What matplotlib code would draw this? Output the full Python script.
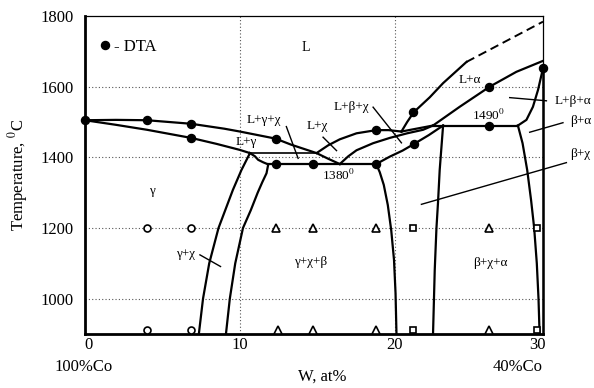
import matplotlib.pyplot as plt

plt.rcParams['font.family'] = ['Liberation Serif', 'DejaVu Serif']
plt.rcParams['mathtext.fontset'] = 'stix'

# DTA points (filled circles), W at% / temperature C
dta_w = [0, 4.0, 6.85, 6.85, 12.3, 12.3, 14.7, 18.8, 18.8, 21.2, 21.25, 26.1, 26.1, 29.57]
dta_t = [1505, 1505, 1495, 1455, 1453, 1380, 1381, 1381, 1477, 1528, 1438, 1600, 1489, 1652]

# annealed samples (open symbols), at 1200 and at the bottom row
anneal_t = [1200, 910]
gamma_w = [4.0, 6.85]                 # circles
tri_w_1200 = [12.3, 14.7, 18.8, 26.1]  # triangles
tri_w_low = [12.45, 14.7, 18.8, 26.1]
sq_w = [21.2, 29.2]                    # squares

# phase boundaries
liq_gamma_w = [0, 2.0, 4.0, 6.85, 9.0, 10.0, 12.3, 13.3, 14.95, 15.7, 16.45]
liq_gamma_t = [1505, 1506, 1505, 1495, 1481, 1473, 1453, 1436, 1412, 1396, 1381]
sol_gamma_w = [0, 2.0, 4.0, 6.85, 8.5, 10.0, 10.65]
sol_gamma_t = [1505, 1492, 1478, 1455, 1438, 1421, 1412]
iso1412_w = [10.65, 14.95]
iso1412_t = [1412, 1412]
corner_w = [10.65, 10.97, 11.18, 11.5, 11.83]
corner_t = [1412, 1403, 1393, 1386, 1380]
iso1380_w = [11.83, 18.8]
iso1380_t = [1380, 1380]
solv1_w = [10.65, 10.1, 9.55, 8.62, 8.02, 7.62, 7.35]
solv1_t = [1412, 1364, 1308, 1200, 1100, 1000, 900]
solv2_w = [11.83, 11.72, 11.45, 11.15, 10.7, 10.2, 9.7, 9.35, 9.1]
solv2_t = [1380, 1355, 1330, 1300, 1250, 1200, 1100, 1000, 900]
liq_chi_w = [14.95, 15.7, 16.45, 17.53, 18.8, 19.6, 20.43]
liq_chi_t = [1412, 1434, 1451, 1468, 1477, 1477, 1473]
pq_w = [20.43, 22.47]
pq_t = [1473, 1490]
ccurve_w = [16.45, 17.0, 17.53, 18.6, 19.68, 20.8, 21.83, 22.47]
ccurve_t = [1381, 1403, 1420, 1440, 1455, 1468, 1478, 1490]
c_w = [18.8, 19.68, 20.5, 21.25, 22.2, 23.12]
c_t = [1381, 1402, 1419, 1438, 1463, 1490]
c_low_w = [18.8, 19.03, 19.29, 19.55, 19.77, 19.95, 20.05, 20.11]
c_low_t = [1381, 1358, 1322, 1265, 1194, 1110, 1015, 900]
liq_alpha_w = [20.43, 20.8, 21.23, 22.26, 23.12, 24.63]
liq_alpha_t = [1473, 1500, 1528, 1570, 1610, 1670]
liq_alpha_dash_w = [24.63, 27.1, 29.57]
liq_alpha_dash_t = [1670, 1727, 1784]
sol_alpha_w = [22.47, 24.19, 26.13, 27.85, 29.57]
sol_alpha_t = [1490, 1543, 1600, 1642, 1673]
lba_w = [29.57, 29.25, 28.92, 28.5, 27.95]
lba_t = [1652, 1591, 1543, 1506, 1490]
iso1490_w = [22.47, 27.95]
iso1490_t = [1490, 1490]
ba_w = [27.95, 28.25, 28.55, 28.8, 29.0, 29.17, 29.28, 29.35]
ba_t = [1490, 1440, 1364, 1279, 1200, 1100, 1000, 900]
r_w = [23.12, 22.9, 22.79, 22.69, 22.58, 22.47]
r_t = [1490, 1364, 1271, 1199, 1081, 900]
edge_w = [29.57, 29.57]
edge_t = [900, 1652]

# leader lines from labels into narrow regions
leaders = [
    ([13.0, 13.76], [1487, 1397]),
    ([15.37, 16.24], [1457, 1419]),
    ([18.6, 20.43], [1542, 1441]),
    ([27.42, 29.79], [1569, 1560]),
    ([28.71, 30.86], [1471, 1498]),
    ([21.72, 31.08], [1267, 1385]),
    ([7.42, 8.75], [1124, 1091]),
]

grid_t = [1000, 1200, 1400, 1600]
grid_w = [10, 20]

fig = plt.figure(figsize=(5.94, 3.88), dpi=100)
ax = fig.add_axes([85 / 594, 1 - 334 / 388, 458 / 594, 318 / 388])

for t in grid_t:
    ax.axhline(t, color='#555555', lw=0.8, ls=(0, (1, 2)), zorder=1)
for w in grid_w:
    ax.axvline(w, color='#555555', lw=0.8, ls=(0, (1, 2)), zorder=1)

curves = [
    (liq_gamma_w, liq_gamma_t), (sol_gamma_w, sol_gamma_t), (corner_w, corner_t),
    (iso1380_w, iso1380_t), (solv1_w, solv1_t), (solv2_w, solv2_t),
    (liq_chi_w, liq_chi_t), (pq_w, pq_t), (ccurve_w, ccurve_t), (c_w, c_t),
    (c_low_w, c_low_t), (liq_alpha_w, liq_alpha_t), (sol_alpha_w, sol_alpha_t),
    (lba_w, lba_t), (iso1490_w, iso1490_t), (ba_w, ba_t), (r_w, r_t),
]
for w, t in curves:
    ax.plot(w, t, color='black', lw=1.6, solid_joinstyle='round', zorder=3)
ax.plot(edge_w, edge_t, color='black', lw=1.8, clip_on=False, zorder=3)
ax.plot(iso1412_w, iso1412_t, color='black', lw=1.2, zorder=3)
ax.plot(liq_alpha_dash_w, liq_alpha_dash_t, color='black', lw=1.4,
        ls=(0, (4.5, 2.5)), zorder=3)

for w, t in leaders:
    ax.plot(w, t, color='black', lw=1.0, clip_on=False, zorder=3)

dta, = ax.plot(dta_w, dta_t, 'o', color='black', ms=5.8, clip_on=False, zorder=5)

open_style = dict(mfc='white', mec='black', mew=1.2, ls='none', clip_on=False, zorder=5)
ax.plot(gamma_w, [anneal_t[0]] * len(gamma_w), 'o', ms=5, **open_style)
ax.plot(gamma_w, [anneal_t[1]] * len(gamma_w), 'o', ms=5, **open_style)
ax.plot(tri_w_1200, [anneal_t[0]] * len(tri_w_1200), '^', ms=5.5, **open_style)
ax.plot(tri_w_low, [anneal_t[1]] * len(tri_w_low), '^', ms=5.5, **open_style)
ax.plot(sq_w, [anneal_t[0]] * len(sq_w), 's', ms=5, **open_style)
ax.plot(sq_w, [anneal_t[1]] * len(sq_w), 's', ms=5, **open_style)

ax.legend([dta], ['- DTA'], loc='center left', bbox_to_anchor=(0.033, 0.9025),
          frameon=False, handlelength=0.6, handletextpad=0.25, borderpad=0,
          borderaxespad=0, fontsize=12)

# phase-region labels
fs = 9.5
ax.text(14.26, 1712, 'L', fontsize=10, ha='center', va='center')
ax.text(24.87, 1619, 'L+α', fontsize=fs, ha='center', va='center')
ax.text(24.98, 1506, '1490$^0$', fontsize=fs, ha='left', va='baseline')
ax.text(15.29, 1336, '1380$^0$', fontsize=fs, ha='left', va='baseline')
ax.text(30.34, 1559, 'L+β+α', fontsize=fs, ha='left', va='center')
ax.text(31.3, 1503, 'β+α', fontsize=fs, ha='left', va='center')
ax.text(31.3, 1409, 'β+χ', fontsize=fs, ha='left', va='center')
ax.text(17.23, 1542, 'L+β+χ', fontsize=fs, ha='center', va='center')
ax.text(15.0, 1489, 'L+χ', fontsize=fs, ha='center', va='center')
ax.text(11.52, 1506, 'L+γ+χ', fontsize=fs, ha='center', va='center')
ax.text(10.39, 1443, 'L+γ', fontsize=fs, ha='center', va='center')
ax.text(4.3, 1306, 'γ', fontsize=fs, ha='center', va='center')
ax.text(6.52, 1127, 'γ+χ', fontsize=fs, ha='center', va='center')
ax.text(14.55, 1104, 'γ+χ+β', fontsize=fs, ha='center', va='center')
ax.text(26.19, 1101, 'β+χ+α', fontsize=fs, ha='center', va='center')

ax.set_xlim(0, 29.57)
ax.set_ylim(900, 1800)
ax.set_yticks([1000, 1200, 1400, 1600, 1800])
ax.set_xticks([0.2, 10, 20, 29.2])
ax.set_xticklabels(['0', '10', '20', '30'])
ax.tick_params(axis='both', length=0, labelsize=12)
ax.tick_params(axis='y', pad=8)
ax.tick_params(axis='x', pad=2)

xt = ax.get_xaxis_transform()
ax.text(-0.08, -0.104, '100%Co', transform=xt, fontsize=12, ha='center', va='center')
ax.text(27.9, -0.104, '40%Co', transform=xt, fontsize=12, ha='center', va='center')

ax.set_xlabel('W, at%', fontsize=12)
ax.xaxis.set_label_coords(0.517, -0.11)
ax.set_ylabel('Temperature, $^0$C', fontsize=12)
ax.yaxis.set_label_coords(-0.12, 0.5)

for side in ['left', 'bottom']:
    ax.spines[side].set_linewidth(2.0)
for side in ['top', 'right']:
    ax.spines[side].set_linewidth(0.9)

fig.savefig('out.png', dpi=100)
